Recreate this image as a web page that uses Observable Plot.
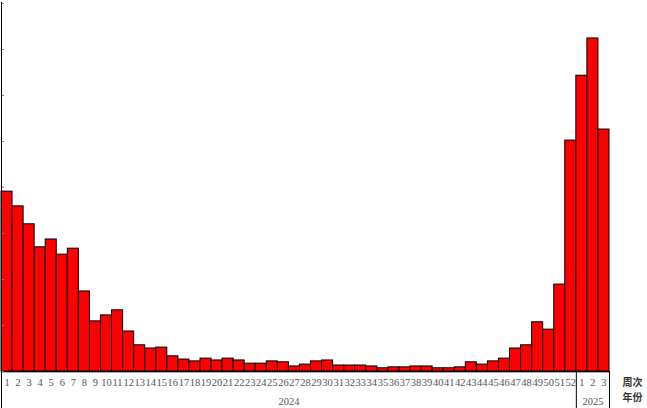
<!DOCTYPE html>
<html>
<head>
<meta charset="utf-8">
<script src="https://cdn.jsdelivr.net/npm/d3@7"></script>
<script src="https://cdn.jsdelivr.net/npm/@observablehq/plot@0.6"></script>
<style>
  html, body { margin: 0; padding: 0; background: #fff; }
  #chart svg { display: block; background: #fff; }
</style>
</head>
<body>
<div id="chart"></div>
<script>
// ---- data ----
const weeks2024 = [1,2,3,4,5,6,7,8,9,10,11,12,13,14,15,16,17,18,19,20,21,22,23,24,25,26,
  27,28,29,30,31,32,33,34,35,36,37,38,39,40,41,42,43,44,45,46,47,48,49,50,51,52];
const values2024 = [39.1,35.9,32.0,27.0,28.7,25.4,26.7,17.4,10.9,12.2,13.3,8.7,5.7,5.0,5.2,3.3,
  2.6,2.2,2.8,2.4,2.8,2.4,1.7,1.7,2.2,2.0,1.1,1.5,2.2,2.4,1.3,1.3,1.3,1.1,0.7,0.9,
  0.9,1.1,1.1,0.7,0.7,0.9,2.0,1.5,2.2,2.8,5.0,5.7,10.7,9.1,18.9,50.2];
const weeks2025 = [1,2,3];
const values2025 = [64.3,72.4,52.6];
const years = ["2024","2025"];
const yTicks = [0,10,20,30,40,50,60,70,80];
const rowTitles = ["周次","年份"];

// ---- table for the library ----
const data = weeks2024.map((w, i) => ({key: `2024-${w}`, week: w, value: values2024[i]}))
  .concat(weeks2025.map((w, i) => ({key: `2025-${w}`, week: w, value: values2025[i]})));
const keys = data.map(d => d.key);

const W = 647, H = 408;
const mL = 1, mR = 38, mT = 3, mB = 37;
const bw = (W - mL - mR) / keys.length;
const numFont = "'Liberation Serif', 'DejaVu Serif', serif";
const cjkFont = "'Noto Sans CJK SC', sans-serif";

const plot = Plot.plot({
  width: W,
  height: H,
  marginLeft: mL,
  marginRight: mR,
  marginTop: mT,
  marginBottom: mB,
  style: {background: "#fff", overflow: "visible"},
  x: {type: "band", domain: keys, padding: 0, round: false},
  y: {domain: [0, 80]},
  marks: [
    Plot.barY(data, {x: "key", y: "value", fill: "#ff0000", stroke: "#000", strokeWidth: 1}),
    Plot.ruleY([0], {stroke: "#aaa", dy: 1}),
    Plot.ruleY([0], {stroke: "#000"}),
    Plot.axisY({ticks: yTicks, tickSize: 3, dx: 3, stroke: "#888", tickFormat: () => "", label: null}),
    Plot.axisX({tickSize: 0, tickPadding: 7, tickFormat: d => d.split("-")[1],
      fontSize: 10.5, fill: "#555", fontFamily: numFont, label: null}),
    // left axis line, extended through the label rows
    Plot.ruleX([keys[0]], {dx: -bw / 2, insetTop: -1, insetBottom: -mB, stroke: "#000"}),
    // 2025 group box
    Plot.ruleX(["2025-1"], {dx: -bw / 2, insetTop: H - mT - mB, insetBottom: -mB, stroke: "#000"}),
    Plot.ruleX(["2025-3"], {dx: bw / 2, insetTop: H - mT - mB, insetBottom: -mB, stroke: "#000"}),
    // year labels
    Plot.text([years[0]], {x: () => "2024-27", dx: -bw / 2, frameAnchor: "bottom", dy: 30,
      text: d => d, fontSize: 10.5, fill: "#555", fontFamily: numFont, lineAnchor: "middle"}),
    Plot.text([years[1]], {x: () => "2025-2", frameAnchor: "bottom", dy: 30,
      text: d => d, fontSize: 10.5, fill: "#555", fontFamily: numFont, lineAnchor: "middle"}),
    // row titles on the right
    Plot.text([rowTitles[0]], {frameAnchor: "bottom-right", dx: 23, dy: 11.5, text: d => d,
      textAnchor: "middle", fontSize: 10, fontWeight: "bold", fill: "#333", fontFamily: cjkFont, lineAnchor: "middle"}),
    Plot.text([rowTitles[1]], {frameAnchor: "bottom-right", dx: 23, dy: 26, text: d => d,
      textAnchor: "middle", fontSize: 10, fontWeight: "bold", fill: "#333", fontFamily: cjkFont, lineAnchor: "middle"})
  ]
});
document.getElementById("chart").appendChild(plot);
</script>
</body>
</html>
